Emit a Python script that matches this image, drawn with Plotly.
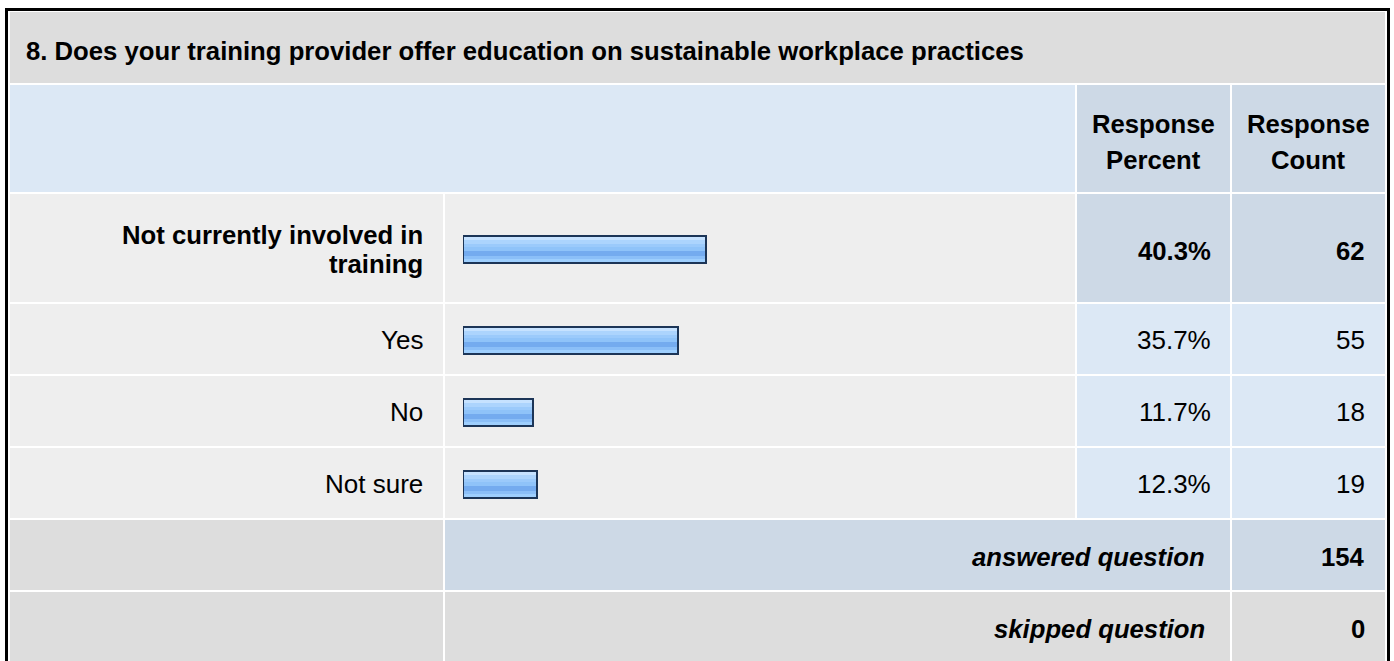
import textwrap
import plotly.graph_objects as go

# ---------------- data ----------------
title_text = "8. Does your training provider offer education on sustainable workplace practices"
categories = ["Not currently involved in training", "Yes", "No", "Not sure"]
percents = [40.3, 35.7, 11.7, 12.3]
counts = [62, 55, 18, 19]
header_percent = ["Response", "Percent"]
header_count = ["Response", "Count"]
answered_label = "answered question"
answered_count = 154
skipped_label = "skipped question"
skipped_count = 0

# ---------------- layout constants (pixels) ----------------
W, H = 1394, 661
FONT = "Arial, Liberation Sans, Helvetica, sans-serif"
FS = 26
FS_B = 25.7
GAP = 2
COLS = [(10, 443), (445, 1075), (1077, 1230), (1232, 1385)]
TITLE_ROW = (12, 83)
HEADER_ROW = (85, 192)
ROW_HEIGHTS = [108, 70, 70, 70]
FOOT_H = 70

C_GRAY = "#dddddd"
C_ROW = "#eeeeee"
C_LBLUE = "#dce8f5"
C_DBLUE = "#cdd9e6"
BAR_X0 = 463
BAR_PX_PER_PCT = 6.02

def px(x):
    return x / W

def py(y):
    return 1 - y / H

shapes = []
annotations = []

def rect(x0, y0, x1, y1, color):
    shapes.append(dict(type="rect", xref="paper", yref="paper",
                       x0=px(x0), x1=px(x1), y0=py(y1), y1=py(y0),
                       fillcolor=color, line=dict(width=0), layer="below"))

def text(x, y, s, anchor="right", bold=False, italic=False):
    size = FS_B if bold else FS
    if bold:
        s = "<b>" + s + "</b>"
    if italic:
        s = "<i>" + s + "</i>"
    annotations.append(dict(xref="paper", yref="paper", x=px(x), y=py(y),
                            text=s, showarrow=False, xanchor=anchor, yanchor="middle",
                            font=dict(family=FONT, size=size, color="#000000")))

# outer black frame
rect(5, 8, 1390, 700, "#000000")
rect(8, 11, 1387, 700, "#ffffff")

# title row
rect(COLS[0][0], TITLE_ROW[0], COLS[3][1], TITLE_ROW[1], C_GRAY)
text(24, (TITLE_ROW[0] + TITLE_ROW[1]) / 2 + 4, title_text, anchor="left", bold=True)

# header row
hy0, hy1 = HEADER_ROW
rect(COLS[0][0], hy0, COLS[1][1], hy1, C_LBLUE)
rect(COLS[2][0], hy0, COLS[2][1], hy1, C_DBLUE)
rect(COLS[3][0], hy0, COLS[3][1], hy1, C_DBLUE)
hc = (hy0 + hy1) / 2
for ci, lines in ((2, header_percent), (3, header_count)):
    cx = (COLS[ci][0] + COLS[ci][1]) / 2
    for li, ln in enumerate(lines):
        text(cx, hc - 15 + li * 36, ln, anchor="center", bold=True)

# answer rows
hi = percents.index(max(percents))
row_tops = []
y = hy1 + GAP
for h in ROW_HEIGHTS:
    row_tops.append(y)
    y += h + GAP
bar_centers = []
for i, cat in enumerate(categories):
    t = row_tops[i]
    b = t + ROW_HEIGHTS[i]
    c = (t + b) / 2
    bar_centers.append(c + 1)
    rect(COLS[0][0], t, COLS[0][1], b, C_ROW)
    rect(COLS[1][0], t, COLS[1][1], b, C_ROW)
    cell = C_DBLUE if i == hi else C_LBLUE
    rect(COLS[2][0], t, COLS[2][1], b, cell)
    rect(COLS[3][0], t, COLS[3][1], b, cell)
    bold = (i == hi)
    lines = textwrap.wrap(cat, 25)
    n = len(lines)
    for li, ln in enumerate(lines):
        text(COLS[0][1] - 18, c + (li - (n - 1) / 2) * 29 + 1, ln, bold=bold)
    text(COLS[2][1] - 17, c + (3 if bold else 1), f"{percents[i]:.1f}%", bold=bold)
    text(COLS[3][1] - 18, c + (3 if bold else 1), str(counts[i]), bold=bold)

# footer rows
at = y
ab = at + FOOT_H
rect(COLS[0][0], at, COLS[0][1], ab, C_GRAY)
rect(COLS[1][0], at, COLS[2][1], ab, C_DBLUE)
rect(COLS[3][0], at, COLS[3][1], ab, C_DBLUE)
text(COLS[2][1] - 23, (at + ab) / 2 + 2, answered_label, bold=True, italic=True)
text(COLS[3][1] - 18, (at + ab) / 2 + 2, str(answered_count), bold=True)
st = ab + GAP
sb = st + FOOT_H
rect(COLS[0][0], st, COLS[0][1], sb, C_GRAY)
rect(COLS[1][0], st, COLS[2][1], sb, C_GRAY)
rect(COLS[3][0], st, COLS[3][1], sb, C_GRAY)
text(COLS[2][1] - 23, (st + sb) / 2 + 2, skipped_label, bold=True, italic=True)
text(COLS[3][1] - 18, (st + sb) / 2 + 2, str(skipped_count), bold=True)

# ---------------- bars (glossy stripes + outline) ----------------
fig = go.Figure()
stripes = [  # (offset from center, thickness, color)
    (-12.5, 3, "#c6e2ff"),
    (-9.5, 4, "#acd4fd"),
    (-5.5, 3, "#9bcafb"),
    (-2.5, 4, "#8fc3f9"),
    (1.5, 5, "#74abef"),
    (6.5, 3, "#8bbff8"),
    (9.5, 3, "#9ecffe"),
]
for off, th, col in stripes:
    fig.add_trace(go.Bar(
        x=percents, y=bar_centers, orientation="h",
        width=[th] * len(percents), offset=[off] * len(percents),
        marker=dict(color=col, line=dict(width=0)),
        hoverinfo="skip", showlegend=False))
fig.add_trace(go.Bar(
    x=percents, y=bar_centers, orientation="h",
    width=[27] * len(percents), offset=[-13.5] * len(percents),
    marker=dict(color="rgba(0,0,0,0)", line=dict(color="#1c3557", width=2)),
    hovertemplate="%{x:.1f}%<extra></extra>", showlegend=False))

fig.update_layout(
    width=W, height=H,
    margin=dict(l=0, r=0, t=0, b=0),
    paper_bgcolor="#ffffff", plot_bgcolor="rgba(0,0,0,0)",
    barmode="overlay", bargap=0,
    shapes=shapes, annotations=annotations,
    xaxis=dict(domain=[px(BAR_X0), px(BAR_X0 + 100 * BAR_PX_PER_PCT)], range=[0, 100],
               visible=False, fixedrange=True),
    yaxis=dict(domain=[0, 1], range=[H, 0], visible=False, fixedrange=True),
    showlegend=False,
)
fig.write_html("out.html", config={"displayModeBar": False},
               post_script="document.body.style.margin='0';document.body.style.overflow='hidden';")
